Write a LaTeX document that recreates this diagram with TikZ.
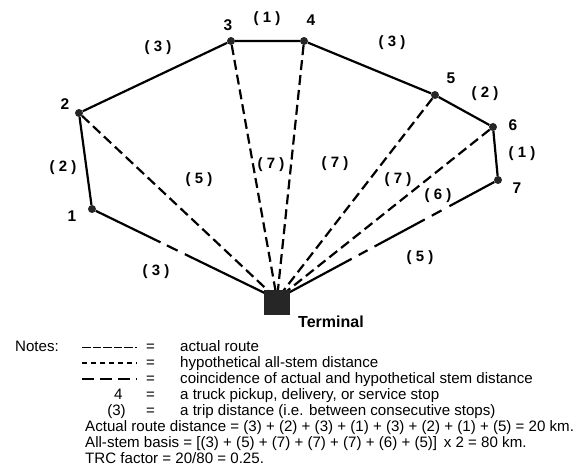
\documentclass[tikz,border=0pt]{standalone}
\usepackage{fontspec}
\setmainfont{Liberation Sans}
\begin{document}
\begin{tikzpicture}[x=1pt,y=-1pt,
  stop/.style={circle,fill=black!85,inner sep=0pt,minimum size=8pt},
  term/.style={rectangle,fill=black!85,inner sep=0pt,minimum width=26pt,minimum height=25pt},
  lbl/.style={font=\fontsize{15}{15}\selectfont\bfseries,inner sep=0pt},
  numlbl/.style={font=\fontsize{15.5}{15}\selectfont\bfseries,inner sep=0pt},
  note/.style={font=\fontsize{15.1}{16}\selectfont,inner sep=0pt,anchor=base west},
  route/.style={line width=2.2pt},
  hyp/.style={line width=2.2pt,dash pattern=on 10pt off 5pt},
  legact/.style={line width=1.4pt,dash pattern=on 8.5pt off 2pt},
  leghyp/.style={line width=1.4pt,dash pattern=on 5pt off 4pt},
  legcoin/.style={line width=1.4pt,dash pattern=on 12pt off 6pt}]
\useasboundingbox (0,0) rectangle (577,473);
% stops
\node[stop] (s1) at (92,209) {};
\node[stop] (s2) at (79,113) {};
\node[stop] (s3) at (231,41) {};
\node[stop] (s4) at (304,41) {};
\node[stop] (s5) at (435,95) {};
\node[stop] (s6) at (493,127) {};
\node[stop] (s7) at (498,180) {};
\coordinate (tc) at (277,299);
% actual route
\draw[route] (s1) -- (s2) -- (s3) -- (s4) -- (s5) -- (s6) -- (s7);
% hypothetical stems
\draw[hyp] (s2) -- (tc);
\draw[hyp] (s3) -- (tc);
\draw[hyp] (s4) -- (tc);
\draw[hyp] (s5) -- (tc);
\draw[hyp] (s6) -- (tc);
% coincidence
\draw[line width=2.2pt,dash pattern=on 72pt off 7pt on 12pt off 8pt on 200pt off 1pt] (s1) -- (tc);
\draw[line width=2.2pt,dash pattern=on 51pt off 9pt on 11pt off 8pt on 57pt off 8pt on 10pt off 8pt on 200pt off 1pt] (s7) -- (tc);
% terminal
\node[term] (T) at (277,302.5) {};
\node[numlbl,anchor=west,font=\fontsize{16}{16}\selectfont\bfseries] (tl) at (298,322) {Terminal};
% stop numbers
\node[numlbl] (n1) at (72,216) {1};
\node[numlbl] (n2) at (65,104) {2};
\node[numlbl] (n3) at (228,25) {3};
\node[numlbl] (n4) at (311,20) {4};
\node[numlbl] (n5) at (451,78) {5};
\node[numlbl] (n6) at (513,125) {6};
\node[numlbl] (n7) at (517,188) {7};
% distances
\node[lbl] (d34) at (267,19) {( 1 )};
\node[lbl] (d23) at (158,48) {( 3 )};
\node[lbl] (d45) at (392,43) {( 3 )};
\node[lbl] (d56) at (485,94) {( 2 )};
\node[lbl] (d67) at (522,154) {( 1 )};
\node[lbl] (d12) at (63,168) {( 2 )};
\node[lbl] (d2t) at (199,180) {( 5 )};
\node[lbl] (d3t) at (271,165) {( 7 )};
\node[lbl] (d4t) at (335,164) {( 7 )};
\node[lbl] (d5t) at (398,180) {( 7 )};
\node[lbl] (d6t) at (438,196) {( 6 )};
\node[lbl] (d7t) at (420,258) {( 5 )};
\node[lbl] (d1t) at (156,272) {( 3 )};
% notes
\node[note] (notes) at (15,351.7) {Notes:};
\coordinate (la) at (82,347.2); \coordinate (lb) at (137,347.2);
\draw[legact] (la) -- (lb);
\coordinate (lc) at (82,363); \coordinate (ld) at (137,363);
\draw[leghyp] (lc) -- (ld);
\coordinate (le) at (82,379); \coordinate (lf) at (137,379);
\draw[legcoin] (le) -- (lf);
\node[note,anchor=base] (e1) at (150.5,351.7) {=};
\node[note,anchor=base] (e2) at (150.5,367.3) {=};
\node[note,anchor=base] (e3) at (150.5,383.3) {=};
\node[note,anchor=base] (e4) at (150.5,399.3) {=};
\node[note,anchor=base] (e5) at (150.5,415) {=};
\node[note,anchor=base] (k4) at (118.3,399.3) {4};
\node[note,anchor=base] (k3) at (116.5,415) {(3)};
\node[note] (t1) at (180,351.7) {actual route};
\node[note] (t2) at (180,367.3) {hypothetical all-stem distance};
\node[note] (t3) at (180,383.3) {coincidence of actual and hypothetical stem distance};
\node[note] (t4) at (180,399.3) {a truck pickup, delivery, or service stop};
\node[note] (t5) at (180,415) {a trip distance (i.e. between consecutive stops)};
\node[note] (t6) at (85,431.7) {Actual route distance = (3) + (2) + (3) + (1) + (3) + (2) + (1) + (5) = 20 km.};
\node[note] (t7) at (85,447.7) {All-stem basis = [(3) + (5) + (7) + (7) + (7) + (6) + (5)]\, x 2 = 80 km.};
\node[note] (t8) at (85,463.3) {TRC factor = 20/80 = 0.25.};
\end{tikzpicture}
\end{document}
